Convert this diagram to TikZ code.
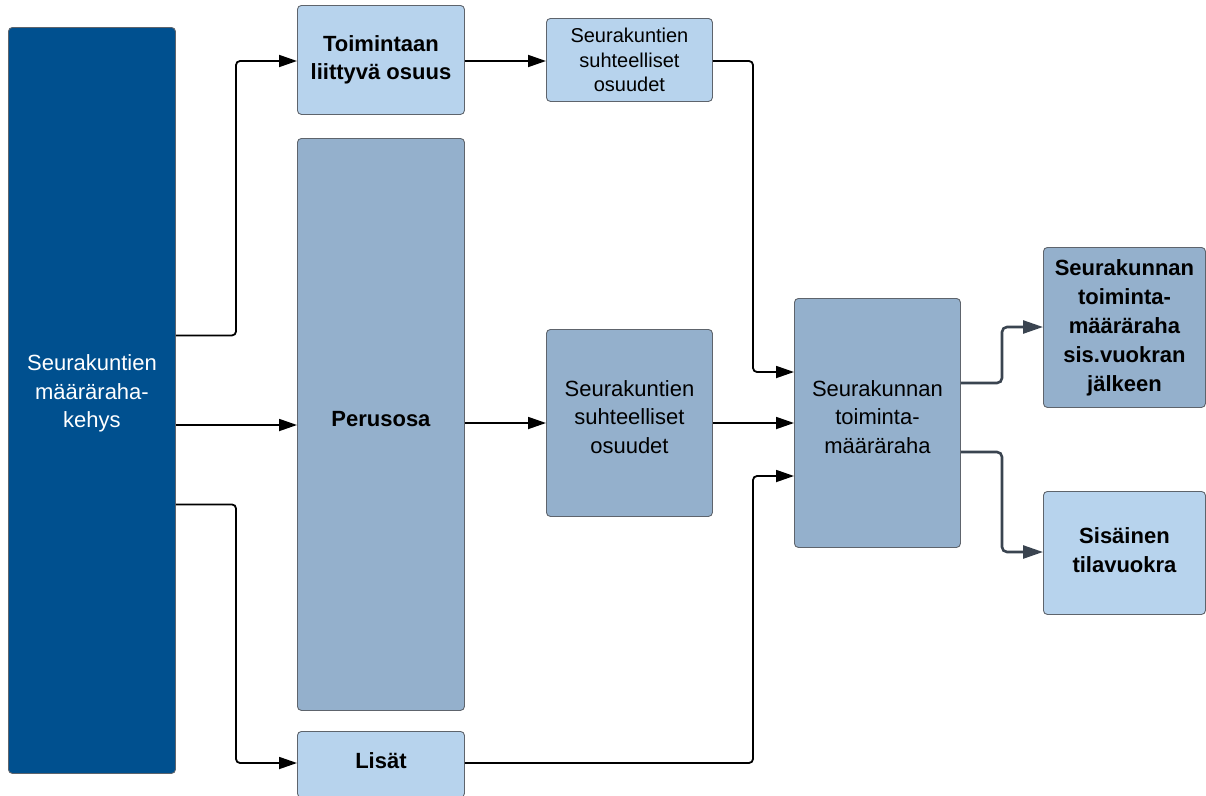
\documentclass[tikz,border=0pt]{standalone}
\usepackage{fontspec}
\setmainfont{Liberation Sans}
\usetikzlibrary{arrows.meta,calc}
\definecolor{darkblue}{HTML}{00508F}
\definecolor{lightblue}{HTML}{B7D3ED}
\definecolor{midblue}{HTML}{94B0CC}
\definecolor{edgegray}{HTML}{5E646C}
\definecolor{slate}{HTML}{3A4450}
\tikzset{
  box/.style={draw=edgegray, line width=0.9pt, rounded corners=4pt, inner sep=0pt,
    anchor=north west, align=center, font=\fontsize{22}{28.5}\selectfont},
  smallbox/.style={box, font=\fontsize{20}{24.5}\selectfont},
  lbl/.style={align=center, inner sep=0pt, font=\fontsize{22}{28.5}\selectfont},
  blbl/.style={lbl, font=\bfseries\fontsize{22}{28.5}\selectfont},
  light/.style={fill=lightblue},
  mid/.style={fill=midblue},
  dark/.style={fill=darkblue, text=white},
  conn/.style={line width=1.8pt, rounded corners=4pt, -{Triangle[length=18pt,width=12pt]}},
  outconn/.style={draw=slate, line width=2.6pt, rounded corners=5pt, -{Triangle[length=20pt,width=13pt,fill=slate]}}
}
\begin{document}
\begin{tikzpicture}[x=1pt,y=-1pt]
\useasboundingbox (0,0) rectangle (1206,795);
\node[box,dark,minimum width=167pt,minimum height=746pt,
  label={[lbl,text=white,yshift=7pt]center:Seurakuntien\\määräraha-\\kehys}] (L) at (8,27) {};
\node[box,light,minimum width=167pt,minimum height=109pt,font=\bfseries\fontsize{22}{28.5}\selectfont] (T) at (297,5) {Toimintaan\\liittyvä osuus};
\node[box,mid,minimum width=167pt,minimum height=572pt,
  label={[blbl,yshift=5pt]center:Perusosa}] (P) at (297,138) {};
\node[box,light,minimum width=167pt,minimum height=66pt,
  label={[blbl,yshift=4pt]center:Lisät}] (Li) at (297,731) {};
\node[smallbox,light,minimum width=166pt,minimum height=83pt] (S1) at (546,18) {Seurakuntien\\suhteelliset\\osuudet};
\node[box,mid,minimum width=166pt,minimum height=187pt,
  label={[lbl,yshift=6pt]center:Seurakuntien\\suhteelliset\\osuudet}] (S2) at (546,329) {};
\node[box,mid,minimum width=166pt,minimum height=249pt,
  label={[lbl,yshift=6pt]center:Seurakunnan\\toiminta-\\määräraha}] (M) at (794,298) {};
\node[box,mid,minimum width=162pt,minimum height=160pt,font=\bfseries\fontsize{22}{29}\selectfont] (R1) at (1043,247) {Seurakunnan\\toiminta-\\määräraha\\sis.vuokran\\jälkeen};
\node[box,light,minimum width=162pt,minimum height=123pt,
  label={[blbl,yshift=3pt]center:Sisäinen\\tilavuokra}] (R2) at (1043,491) {};
% connectors
\draw[conn] ($(L.east)+(0,-65)$) -| (236,61) -- (T.west |- 0,61);
\draw[conn] (L.east |- 0,425) -- (P.west |- 0,425);
\draw[conn] ($(L.east)+(0,104)$) -| (236,763) -- (Li.west |- 0,763);
\draw[conn] (T.east |- 0,61) -- (S1.west |- 0,61);
\draw[conn] (S1.east |- 0,61) -| (753,372) -- (M.west |- 0,372);
\draw[conn] (P.east |- 0,423) -- (S2.west |- 0,423);
\draw[conn] (S2.east |- 0,423) -- (M.west |- 0,423);
\draw[conn] (Li.east |- 0,763) -| (753,476) -- (M.west |- 0,476);
\draw[outconn] (M.east |- 0,383) -| (1002,327) -- (R1.west |- 0,327);
\draw[outconn] (M.east |- 0,452) -| (1002,552) -- (R2.west |- 0,552);
\end{tikzpicture}
\end{document}
